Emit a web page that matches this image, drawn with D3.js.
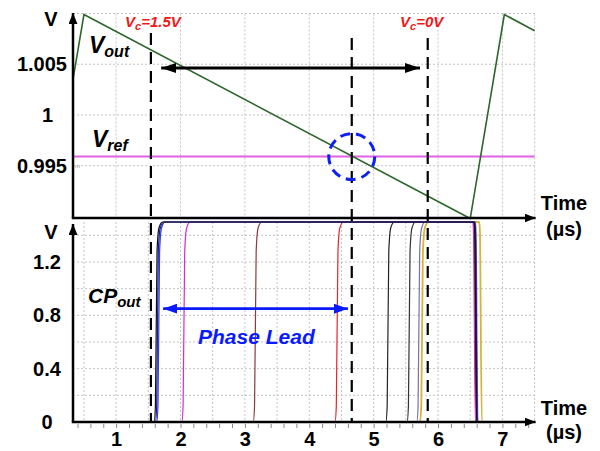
<!DOCTYPE html>
<html>
<head>
<meta charset="utf-8">
<script src="https://cdn.jsdelivr.net/npm/d3@7"></script>
<style>
body { margin: 0; background: #fff; }
svg { display: block; font-family: "Liberation Sans", Arial, sans-serif; }
</style>
</head>
<body>
<svg id="chart" width="600" height="451"></svg>
<script>
// time axis (us), shared by both panels
var timeTicks = [1, 2, 3, 4, 5, 6, 7];

// top panel: Vout sawtooth and Vref
var voutTime = [0.33, 0.5, 6.5, 7.03, 7.5];
var voutVolt = [1.0035, 1.0099, 0.9898, 1.0099, 1.0083];
var vref = 0.9959;
var topTicks = [0.995, 1, 1.005];

// bottom panel: charge pump output pulses
var cpTicks = [0, 0.4, 0.8, 1.2];
var cpRise  = [1.59, 1.61, 1.63, 2.02, 3.13, 4.40, 5.19, 5.52, 5.67, 5.72];
var cpFall  = [6.57, 6.58, 6.58, 6.55, 6.57, 6.56, 6.57, 6.57, 6.59, 6.65];
var cpColor = ["#111111", "#1c1c8c", "#2b3bff", "#d42ad4", "#8a3a3a", "#e02828",
               "#222222", "#333333", "#7a70a8", "#d8b436"];
var cpHigh = 1.5;

// markers: Vc=1.5V, Vout/Vref crossing, Vc=0V
var markTime = [1.54, 4.66, 5.84];
var crossTime = 4.66;
var leadFrom = 5.72, leadTo = 1.70;   // black arrow (top)
var phaseFrom = 1.73, phaseTo = 4.60; // blue arrow (bottom)

var svg = d3.select("#chart");

var x = d3.scaleLinear().domain([0.33, 7.5]).range([73, 534.6]);
var yTop = d3.scaleLinear().domain([0.98985, 1.01]).range([218, 13.5]);
var yBot = d3.scaleLinear().domain([0, 1.5]).range([422, 222]);

// arrow heads
var defs = svg.append("defs");
function arrowHead(id, color, w, h) {
  defs.append("marker")
    .attr("id", id)
    .attr("viewBox", "0 0 " + w + " " + h)
    .attr("refX", w).attr("refY", h / 2)
    .attr("markerUnits", "userSpaceOnUse")
    .attr("markerWidth", w).attr("markerHeight", h)
    .attr("orient", "auto-start-reverse")
    .append("path")
    .attr("d", "M0,0L" + w + "," + (h / 2) + "L0," + h + "Z")
    .attr("fill", color);
}
arrowHead("axisArrow", "#000", 11, 9);
arrowHead("blackArrow", "#000", 15, 10);
arrowHead("blueArrow", "#0a1aff", 14, 10);

var grid = svg.append("g")
  .attr("stroke", "#c4c4c4")
  .attr("stroke-width", 1)
  .attr("stroke-dasharray", "2,2");

// top panel grid
grid.selectAll(".tv").data(timeTicks.concat([7.5])).enter().append("line")
  .attr("x1", function(d) { return x(d); }).attr("x2", function(d) { return x(d); })
  .attr("y1", yTop(1.01)).attr("y2", yTop.range()[0]);
grid.selectAll(".th").data(topTicks.concat([1.01])).enter().append("line")
  .attr("x1", x.range()[0]).attr("x2", x(7.5))
  .attr("y1", function(d) { return yTop(d); }).attr("y2", function(d) { return yTop(d); });

// bottom panel grid
grid.selectAll(".bv").data(d3.range(0.5, 7.6, 0.5)).enter().append("line")
  .attr("x1", function(d) { return x(d); }).attr("x2", function(d) { return x(d); })
  .attr("y1", yBot(cpHigh)).attr("y2", yBot(0));
grid.selectAll(".bh").data(d3.range(0.2, 1.5, 0.2)).enter().append("line")
  .attr("x1", x.range()[0]).attr("x2", x(7.5))
  .attr("y1", function(d) { return yBot(d); }).attr("y2", function(d) { return yBot(d); });

// Vref and Vout
svg.append("line")
  .attr("x1", x.range()[0]).attr("x2", x(7.5))
  .attr("y1", yTop(vref)).attr("y2", yTop(vref))
  .attr("stroke", "#e060e6").attr("stroke-width", 2);

var vout = d3.line()
  .x(function(d, i) { return x(voutTime[i]); })
  .y(function(d) { return yTop(d); });
svg.append("path")
  .attr("d", vout(voutVolt))
  .attr("fill", "none")
  .attr("stroke", "#2c662c")
  .attr("stroke-width", 1.6);

// CP pulses: low, rounded rising edge, high, falling edge, low
var riseDt = [0, 0.02, 0.045, 0.075, 0.13];
var riseV  = [0, 0.08, 0.85, 0.97, 1];
var cpLine = d3.line()
  .x(function(d) { return x(d[0]); })
  .y(function(d) { return yBot(d[1]); })
  .curve(d3.curveMonotoneX);
// last trace first, so the darker ones sit on top of the shared high level
d3.range(cpRise.length - 1, -1, -1).forEach(function(i) {
  var r = cpRise[i];
  var pts = [[x.domain()[0], 0]];
  riseDt.forEach(function(dt, k) { pts.push([r + dt, riseV[k] * cpHigh]); });
  pts.push([cpFall[i] - 0.01, cpHigh]);
  pts.push([cpFall[i], cpHigh * 0.96]);
  pts.push([cpFall[i] + 0.03, 0]);
  pts.push([x.domain()[1], 0]);
  svg.append("path")
    .attr("d", cpLine(pts))
    .attr("fill", "none")
    .attr("stroke", cpColor[i])
    .attr("stroke-width", i == cpColor.length - 1 ? 1.8 : 1.2);
});

// vertical dashed markers through both panels
svg.selectAll(".mark").data(markTime).enter().append("line")
  .attr("x1", function(d) { return x(d); }).attr("x2", function(d) { return x(d); })
  .attr("y1", function(d, i) { return i == 0 ? 33 : 38; })
  .attr("y2", yBot(0))
  .attr("stroke", "#000")
  .attr("stroke-width", 2.2)
  .attr("stroke-dasharray", "12,7");

// crossing circle
svg.append("circle")
  .attr("cx", x(crossTime)).attr("cy", yTop(vref)).attr("r", 23)
  .attr("fill", "none")
  .attr("stroke", "#1020f0")
  .attr("stroke-width", 3)
  .attr("stroke-dasharray", "10,6");

// double arrows
svg.append("line")
  .attr("x1", x(leadTo)).attr("x2", x(leadFrom))
  .attr("y1", yTop(1.00463)).attr("y2", yTop(1.00463))
  .attr("stroke", "#000").attr("stroke-width", 2.8)
  .attr("marker-start", "url(#blackArrow)")
  .attr("marker-end", "url(#blackArrow)");
svg.append("line")
  .attr("x1", x(phaseFrom)).attr("x2", x(phaseTo))
  .attr("y1", yBot(0.85)).attr("y2", yBot(0.85))
  .attr("stroke", "#0a1aff").attr("stroke-width", 2.8)
  .attr("marker-start", "url(#blueArrow)")
  .attr("marker-end", "url(#blueArrow)");

// minor ticks on the bottom time axis
svg.append("g")
  .attr("transform", "translate(0," + yBot(0) + ")")
  .call(d3.axisBottom(x).tickValues(d3.range(0.4, 7.5, 0.2)).tickSize(4).tickFormat(""))
  .call(function(g) { g.select(".domain").remove(); })
  .selectAll("line").attr("stroke", "#888").attr("transform", "translate(0,2)");

// time labels
svg.append("g")
  .attr("transform", "translate(0," + yBot(0) + ")")
  .call(d3.axisBottom(x).tickValues(timeTicks).tickSize(0).tickPadding(10).tickFormat(d3.format("d")))
  .call(function(g) {
    g.select(".domain").remove();
    g.selectAll("text").attr("font-size", 20).attr("font-weight", "bold")
      .attr("font-family", "Liberation Sans, Arial, sans-serif").attr("fill", "#000");
  });

// y labels
svg.append("g")
  .attr("transform", "translate(" + x.range()[0] + ",0)")
  .call(d3.axisLeft(yTop).tickValues(topTicks).tickSize(0).tickPadding(6)
    .tickFormat(function(d) { return d == 1 ? "1" : d3.format(".3f")(d); }))
  .call(function(g) {
    g.select(".domain").remove();
    g.selectAll("text").attr("font-size", 20).attr("font-weight", "bold")
      .attr("font-family", "Liberation Sans, Arial, sans-serif").attr("fill", "#000")
      .attr("dx", function(d) { return d == 1 ? -14 : 0; });
  });
svg.append("g")
  .attr("transform", "translate(" + x.range()[0] + ",0)")
  .call(d3.axisLeft(yBot).tickValues(cpTicks).tickSize(0).tickPadding(0)
    .tickFormat(function(d) { return d == 0 ? "0" : d3.format(".1f")(d); }))
  .call(function(g) {
    g.select(".domain").remove();
    g.selectAll("text").attr("font-size", 20).attr("font-weight", "bold")
      .attr("font-family", "Liberation Sans, Arial, sans-serif").attr("fill", "#000")
      .attr("text-anchor", "middle").attr("x", -26);
  });

svg.append("text").attr("x", 75).attr("y", 168)
  .attr("font-size", 6).attr("fill", "#999").text("m");

// axis lines with arrows
function axisLine(x1, y1, x2, y2) {
  svg.append("line")
    .attr("x1", x1).attr("y1", y1).attr("x2", x2).attr("y2", y2)
    .attr("stroke", "#000").attr("stroke-width", 2.5)
    .attr("marker-end", "url(#axisArrow)");
}
axisLine(x.range()[0] - 1.2, yTop.range()[0], x(7.5) + 1, yTop.range()[0]);
axisLine(x.range()[0], yTop.range()[0], x.range()[0], 13);
axisLine(x.range()[0] - 1.2, yBot(0), x(7.5) + 1, yBot(0));
axisLine(x.range()[0], yBot(0), x.range()[0], 224);

// text labels
function label(xp, yp, size, color, parts) {
  var t = svg.append("text").attr("x", xp).attr("y", yp)
    .attr("font-weight", "bold").attr("font-style", "italic")
    .attr("fill", color).attr("font-size", size);
  parts.forEach(function(p) {
    t.append("tspan").attr("font-size", p[1]).attr("dy", p[2]).text(p[0]);
  });
}
label(89, 53, 23, "#000", [["V", 23, 0], ["out", 16, 4]]);
label(92, 147, 23, "#000", [["V", 23, 0], ["ref", 16, 4]]);
label(88, 303, 21, "#000", [["CP", 21, 0], ["out", 15, 4]]);
label(125, 27, 15, "#f01818", [["V", 15, 0], ["c", 11, 3], ["=1.5V", 15, -3]]);
label(400, 27, 15, "#f01818", [["V", 15, 0], ["c", 11, 3], ["=0V", 15, -3]]);
label(198, 344, 21, "#0a1aff", [["Phase Lead", 21, 0]]);

function plain(xp, yp, txt, anchor) {
  svg.append("text").attr("x", xp).attr("y", yp)
    .attr("font-weight", "bold").attr("font-size", 20)
    .attr("text-anchor", anchor).attr("fill", "#000").text(txt);
}
plain(51, 26, "V", "middle");
plain(51, 239, "V", "middle");
plain(564, 210, "Time", "middle");
plain(564, 236, "(\u00b5s)", "middle");
plain(564, 415, "Time", "middle");
plain(564, 439, "(\u00b5s)", "middle");
</script>
</body>
</html>
